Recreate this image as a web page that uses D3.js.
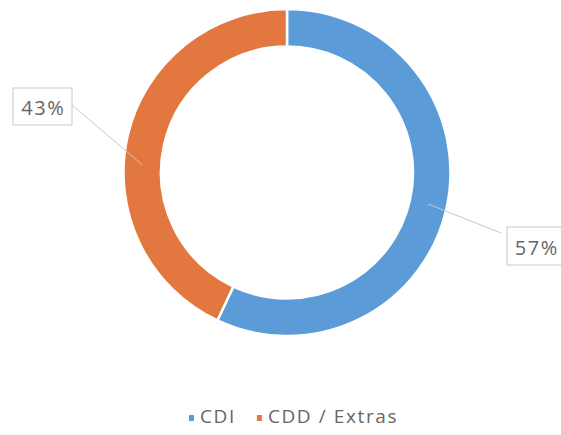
<!DOCTYPE html>
<html>
<head>
<meta charset="utf-8">
<script src="https://cdn.jsdelivr.net/npm/d3@7"></script>
<style>
  html, body { margin: 0; padding: 0; background: #fff; }
  svg { display: block; font-family: "Open Sans", "Segoe UI", sans-serif; }
</style>
</head>
<body>
<svg id="chart" width="561" height="435"></svg>
<script>
// ---- data ----
const categories = ["CDI", "CDD / Extras"];
const values = [57, 43];
const labels = ["57%", "43%"];
const colors = ["#5b9bd8", "#e2783f"];

// ---- layout ----
const cx = 287, cy = 172.5;
const outerR = 163.5, innerR = 126;
const textColor = "#666666";
const boxStroke = "#c8c8c8";

const svg = d3.select("#chart");
const g = svg.append("g").attr("transform", `translate(${cx},${cy})`);

const pie = d3.pie().sort(null).value(d => d.v);
const arcs = pie(values.map((v, i) => ({ v, name: categories[i] })));
const arc = d3.arc().innerRadius(innerR).outerRadius(outerR);

g.selectAll("path.slice")
  .data(arcs)
  .join("path")
  .attr("class", "slice")
  .attr("d", arc)
  .attr("fill", (d, i) => colors[i])
  .attr("stroke", "#fff")
  .attr("stroke-width", 2.5);

// data labels (callouts): box centre offsets and leader anchor angle
const midR = (innerR + outerR) / 2;
const labelLayout = [
  { dx: 249, dy: 73.5, w: 58, h: 38, anchorAngle: null, side: "left" },
  { dx: -244.5, dy: -66, w: 59, h: 37, anchorAngle: -87 * Math.PI / 180, side: "right" }
];

arcs.forEach((a, i) => {
  const L = labelLayout[i];
  const ang = L.anchorAngle == null ? (a.startAngle + a.endAngle) / 2 : L.anchorAngle;
  const px = midR * Math.sin(ang), py = -midR * Math.cos(ang);
  const bx = L.side === "left" ? L.dx - L.w / 2 - 6 : L.dx + L.w / 2;
  const by = L.side === "left" ? L.dy - 13 : L.dy - 1.5;
  g.append("line")
    .attr("x1", px).attr("y1", py)
    .attr("x2", bx).attr("y2", by)
    .attr("stroke", boxStroke).attr("stroke-width", 1);
  g.append("rect")
    .attr("x", L.dx - L.w / 2).attr("y", L.dy - L.h / 2)
    .attr("width", L.w).attr("height", L.h)
    .attr("fill", "#fff").attr("stroke", boxStroke).attr("stroke-width", 1);
  g.append("text")
    .attr("x", L.dx + 0.75).attr("y", L.dy + 1)
    .attr("text-anchor", "middle").attr("dominant-baseline", "central")
    .attr("font-size", 20).attr("letter-spacing", 1.5).attr("fill", textColor)
    .text(labels[i]);
});

// legend
const legend = svg.append("g").attr("transform", "translate(189,415)");
let x = 0;
categories.forEach((c, i) => {
  const item = legend.append("g").attr("transform", `translate(${x},0)`);
  item.append("rect").attr("x", 0).attr("y", 0).attr("width", 5).attr("height", 6).attr("fill", colors[i]);
  const t = item.append("text").attr("x", 11).attr("y", 8)
    .attr("font-size", 19).attr("letter-spacing", 1.6).attr("fill", textColor).text(c);
  const tw = t.node().getComputedTextLength();
  x += 11 + tw + 21;
});
</script>
</body>
</html>
